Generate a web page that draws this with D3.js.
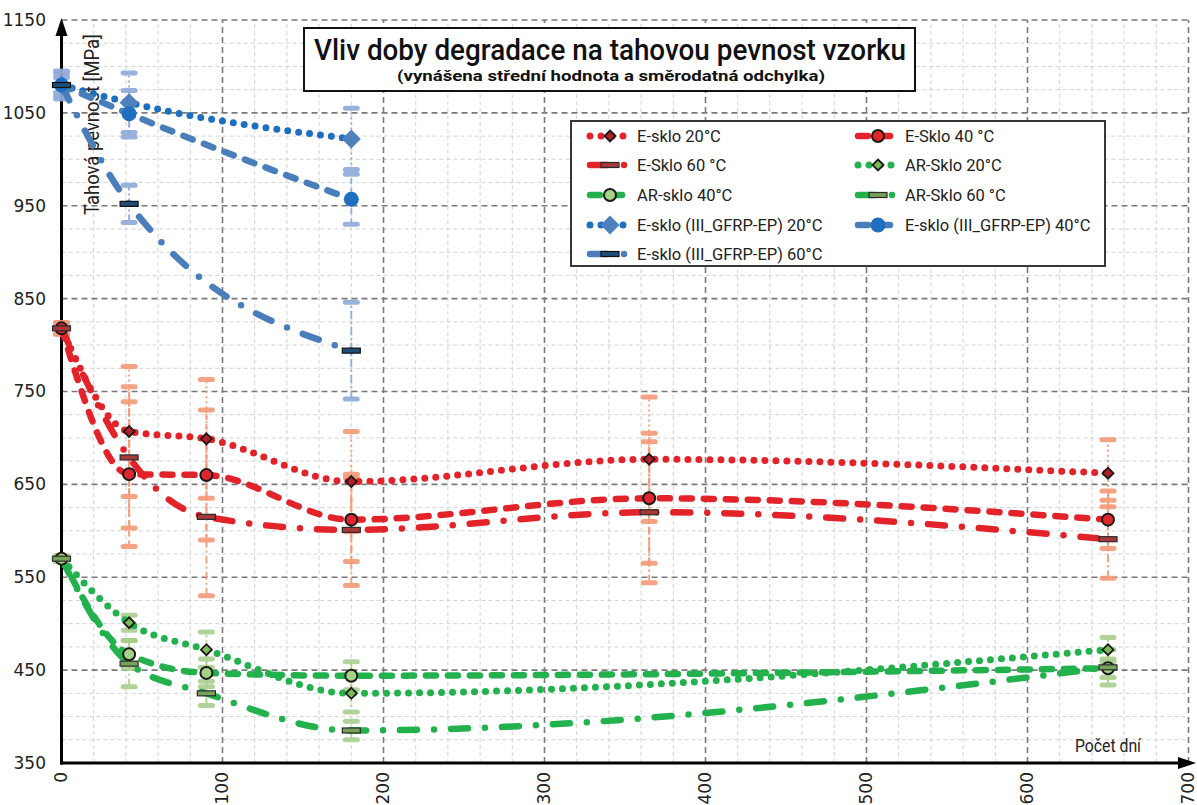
<!DOCTYPE html>
<html>
<head>
<meta charset="utf-8">
<script src="https://cdn.jsdelivr.net/npm/d3@7"></script>
<style>
  html, body { margin: 0; padding: 0; background: #fff; }
  svg { display: block; font-family: Roboto, 'DejaVu Sans', sans-serif; }
</style>
</head>
<body>
<svg id="chart" width="1197" height="805"></svg>
<script>
// measurement days
const daysE = [0, 42, 90, 180, 365, 650]
const daysAR = [0, 42, 90, 180, 650]
const daysGF = [0, 42, 180]

// E-sklo (red)
const eSklo20 = [818, 707, 699, 653, 677, 662]
const eSklo20Sd = [6, 70, 64, 54, 67, 36]
const eSklo40 = [818, 661, 660, 612, 635, 612]
const eSklo40Sd = [6, 78, 70, 45, 70, 31]
const eSklo60 = [818, 679, 615, 601, 620, 591]
const eSklo60Sd = [6, 76, 85, 60, 76, 42]

// AR-sklo (green)
const ar20 = [570, 501, 472, 425, 472]
const ar20Sd = [3, 8, 19, 20, 13]
const ar40 = [570, 467, 447, 444, 452]
const ar40Sd = [3, 15, 15, 15, 10]
const ar60 = [570, 457, 425, 385, 453]
const ar60Sd = [3, 25, 13, 10, 19]

// E-sklo (III_GFRP-EP) (blue)
const gf20 = [1080, 1061, 1022]
const gf20Sd = [15, 32, 33]
const gf40 = [1080, 1049, 957]
const gf40Sd = [12, 25, 27]
const gf60 = [1080, 952, 794]
const gf60Sd = [8, 20, 52]

const seriesNames = [
  'E-sklo 20°C', 'E-Sklo 40 °C', 'E-Sklo 60 °C',
  'AR-Sklo 20°C', 'AR-sklo 40°C', 'AR-Sklo 60 °C',
  'E-sklo (III_GFRP-EP) 20°C', 'E-sklo (III_GFRP-EP) 40°C', 'E-sklo (III_GFRP-EP) 60°C'
]

const xTicks = [0, 100, 200, 300, 400, 500, 600, 700]
const yTicks = [350, 450, 550, 650, 750, 850, 950, 1050, 1150]

const titleText = 'Vliv doby degradace na tahovou pevnost vzorku'
const subtitleText = '(vynášena střední hodnota a směrodatná odchylka)'
const yTitle = 'Tahová pevnost [MPa]'
const xTitle = 'Počet dní'

// ---- styles ----
const red = '#e3232a'
const green = '#22b14c'
const blueDot = '#1f6fc0'
const blue = '#4a7ebb'
const redErr = '#f59a78'
const greenErr = '#a9cf8e'
const blueErr = '#8faad8'

const dashes = {
  dot: '0,11',
  dash: '10,12',
  dashDot: '17,17,0,17'
}
const errDashes = {
  dot: '2,3',
  dash: '6,4',
  dashDot: '8,3,2,3'
}
const widths = { dot: 7, dash: 6.5, dashDot: 6.5 }

function build (name, days, values, sd, style) {
  return Object.assign({ name, points: days.map((d, i) => ({ day: d, v: values[i], sd: sd[i] })) }, style)
}

const series = [
  build(seriesNames[0], daysE, eSklo20, eSklo20Sd, { color: red, dash: 'dot', err: redErr, marker: 'diamond', fill: '#b11f27', stroke: '#1a1a1a', size: 5.5 }),
  build(seriesNames[1], daysE, eSklo40, eSklo40Sd, { color: red, dash: 'dash', err: redErr, marker: 'circle', fill: '#e0262c', stroke: '#1a1a1a', size: 6 }),
  build(seriesNames[2], daysE, eSklo60, eSklo60Sd, { color: red, dash: 'dashDot', err: redErr, marker: 'bar', fill: '#a8373a', stroke: '#2a2a2a', size: 9 }),
  build(seriesNames[3], daysAR, ar20, ar20Sd, { color: green, dash: 'dot', err: greenErr, marker: 'diamond', fill: '#7dbb5a', stroke: '#1a1a1a', size: 5.5 }),
  build(seriesNames[4], daysAR, ar40, ar40Sd, { color: green, dash: 'dash', err: greenErr, marker: 'circle', fill: '#a6d285', stroke: '#1a1a1a', size: 6 }),
  build(seriesNames[5], daysAR, ar60, ar60Sd, { color: green, dash: 'dashDot', err: greenErr, marker: 'bar', fill: '#76a35a', stroke: '#2a2a2a', size: 9 }),
  build(seriesNames[6], daysGF, gf20, gf20Sd, { color: blueDot, dash: 'dot', err: blueErr, marker: 'diamond', fill: '#4f81bd', stroke: 'none', size: 9.5 }),
  build(seriesNames[7], daysGF, gf40, gf40Sd, { color: blue, dash: 'dash', err: blueErr, marker: 'circle', fill: '#1f6fc0', stroke: 'none', size: 7.5 }),
  build(seriesNames[8], daysGF, gf60, gf60Sd, { color: blue, dash: 'dashDot', err: blueErr, marker: 'bar', fill: '#1f4e79', stroke: '#111', size: 9 })
]

const svg = d3.select('#chart')

const x = d3.scaleLinear().domain([0, 700]).range([61.5, 1188.5])
const y = d3.scaleLinear().domain([350, 1150]).range([763, 20])

// ---- grid ----
const grid = svg.append('g')
const minorX = d3.range(20, 701, 20).filter(d => d % 100 !== 0)
const minorY = d3.range(375, 1151, 25).filter(d => (d - 350) % 100 !== 0)

grid.selectAll('.mx').data(minorX).enter().append('line')
  .attr('x1', d => x(d)).attr('x2', d => x(d))
  .attr('y1', y(350)).attr('y2', y(1150))
  .attr('stroke', '#d2d2d2').attr('stroke-width', 1).attr('stroke-dasharray', '4,3')
grid.selectAll('.my').data(minorY).enter().append('line')
  .attr('x1', x(0)).attr('x2', x(700))
  .attr('y1', d => y(d)).attr('y2', d => y(d))
  .attr('stroke', '#d2d2d2').attr('stroke-width', 1).attr('stroke-dasharray', '4,3')
grid.selectAll('.Mx').data(xTicks.slice(1)).enter().append('line')
  .attr('x1', d => x(d)).attr('x2', d => x(d))
  .attr('y1', y(350)).attr('y2', y(1150))
  .attr('stroke', '#7a7a7a').attr('stroke-width', 1.6).attr('stroke-dasharray', '6,4')
grid.selectAll('.My').data(yTicks.slice(1)).enter().append('line')
  .attr('x1', x(0)).attr('x2', x(700))
  .attr('y1', d => y(d)).attr('y2', d => y(d))
  .attr('stroke', '#7a7a7a').attr('stroke-width', 1.6).attr('stroke-dasharray', '6,4')

// ---- axes ----
const axisG = svg.append('g')
axisG.append('line').attr('x1', x(0)).attr('x2', x(0)).attr('y1', y(350) + 1.5).attr('y2', 34)
  .attr('stroke', '#000').attr('stroke-width', 3)
axisG.append('path').attr('d', `M${x(0)},18 L${x(0) - 6},36 L${x(0) + 6},36 Z`).attr('fill', '#000')
axisG.append('line').attr('x1', x(0) - 1.5).attr('x2', 1180).attr('y1', y(350)).attr('y2', y(350))
  .attr('stroke', '#000').attr('stroke-width', 3)
axisG.append('path').attr('d', `M1196,${y(350)} L1178,${y(350) - 6} L1178,${y(350) + 6} Z`).attr('fill', '#000')

axisG.selectAll('.yl').data(yTicks).enter().append('text')
  .attr('x', 46).attr('y', d => y(d)).attr('dy', '0.35em')
  .attr('text-anchor', 'end')
  .style('font-family', "'DejaVu Sans', sans-serif")
  .style('font-size', '17px').attr('fill', '#222')
  .text(d => d)

axisG.selectAll('.xl').data(xTicks).enter().append('text')
  .attr('transform', d => `translate(${x(d)}, 772) rotate(-90)`)
  .attr('dy', '0.35em').attr('text-anchor', 'end')
  .style('font-family', "'DejaVu Sans', sans-serif")
  .style('font-size', '17px').attr('fill', '#222')
  .text(d => d)

svg.append('text')
  .attr('transform', 'translate(99, 215) rotate(-90)')
  .attr('textLength', 181).attr('lengthAdjust', 'spacingAndGlyphs')
  .style('font-size', '20px').attr('fill', '#222')
  .text(yTitle)

svg.append('text')
  .attr('x', 1075).attr('y', 752)
  .attr('textLength', 66).attr('lengthAdjust', 'spacingAndGlyphs')
  .style('font-size', '18px').attr('fill', '#222')
  .text(xTitle)

// ---- markers ----
function drawMarker (g, s, cx, cy) {
  if (s.marker === 'diamond') {
    const r = s.size
    g.append('path')
      .attr('d', `M${cx},${cy - r} L${cx + r},${cy} L${cx},${cy + r} L${cx - r},${cy} Z`)
      .attr('fill', s.fill).attr('stroke', s.stroke).attr('stroke-width', 1.8)
  } else if (s.marker === 'circle') {
    g.append('circle').attr('cx', cx).attr('cy', cy).attr('r', s.size)
      .attr('fill', s.fill).attr('stroke', s.stroke).attr('stroke-width', 2)
  } else {
    g.append('rect').attr('x', cx - s.size).attr('y', cy - 2.5)
      .attr('width', s.size * 2).attr('height', 5)
      .attr('fill', s.fill).attr('stroke', s.stroke).attr('stroke-width', 1.2)
  }
}

// ---- error bars ----
const errG = svg.append('g')
series.forEach(s => {
  s.points.forEach(p => {
    const g = errG.append('g').attr('opacity', 0.9)
    g.append('line')
      .attr('x1', x(p.day)).attr('x2', x(p.day))
      .attr('y1', y(p.v - p.sd)).attr('y2', y(p.v + p.sd))
      .attr('stroke', s.err).attr('stroke-width', 2)
      .attr('stroke-dasharray', errDashes[s.dash])
    ;[p.v - p.sd, p.v + p.sd].forEach(v => {
      g.append('line')
        .attr('x1', x(p.day) - 6).attr('x2', x(p.day) + 6)
        .attr('y1', y(v)).attr('y2', y(v))
        .attr('stroke', s.err).attr('stroke-width', 5)
        .attr('stroke-linecap', 'round')
    })
  })
})

// ---- lines ----
const line = d3.line()
  .x(d => x(d.day))
  .y(d => y(d.v))
  .curve(d3.curveMonotoneX)

const lineG = svg.append('g')
series.forEach(s => {
  lineG.append('path')
    .attr('d', line(s.points))
    .attr('fill', 'none')
    .attr('stroke', s.color)
    .attr('stroke-width', widths[s.dash])
    .attr('stroke-linecap', 'round')
    .attr('stroke-dasharray', dashes[s.dash])
})

const markG = svg.append('g')
series.forEach(s => {
  s.points.forEach(p => drawMarker(markG, s, x(p.day), y(p.v)))
})

// ---- title ----
const titleG = svg.append('g')
titleG.append('rect').attr('x', 304).attr('y', 28).attr('width', 611).attr('height', 63)
  .attr('fill', '#fff').attr('stroke', '#111').attr('stroke-width', 2)
titleG.append('text').attr('x', 610).attr('y', 60).attr('text-anchor', 'middle')
  .attr('textLength', 592).attr('lengthAdjust', 'spacingAndGlyphs')
  .style('font-size', '29px').style('font-weight', 500).attr('fill', '#111')
  .text(titleText)
titleG.append('text').attr('x', 611).attr('y', 81).attr('text-anchor', 'middle')
  .attr('textLength', 428).attr('lengthAdjust', 'spacingAndGlyphs')
  .style('font-size', '15px').style('font-weight', 'bold').attr('fill', '#111')
  .text(subtitleText)

// ---- legend ----
const legend = svg.append('g')
legend.append('rect').attr('x', 571).attr('y', 121).attr('width', 534).attr('height', 145)
  .attr('fill', '#fff').attr('stroke', '#222').attr('stroke-width', 1.8)

const colX = [588, 856]
const rowY = [136, 165, 195, 225, 254]
series.forEach((s, i) => {
  const sx = colX[i % 2]
  const sy = rowY[Math.floor(i / 2)]
  const g = legend.append('g')
  g.append('line').attr('x1', sx + 2).attr('x2', sx + 40).attr('y1', sy).attr('y2', sy)
    .attr('stroke', s.color).attr('stroke-width', widths[s.dash])
    .attr('stroke-linecap', 'round')
    .attr('stroke-dasharray', dashes[s.dash])
  drawMarker(g, s, sx + 22, sy)
  g.append('text').attr('x', sx + 49).attr('y', sy).attr('dy', '0.35em')
    .style('font-size', '16.5px').attr('fill', '#222')
    .text(s.name)
})
</script>
</body>
</html>
